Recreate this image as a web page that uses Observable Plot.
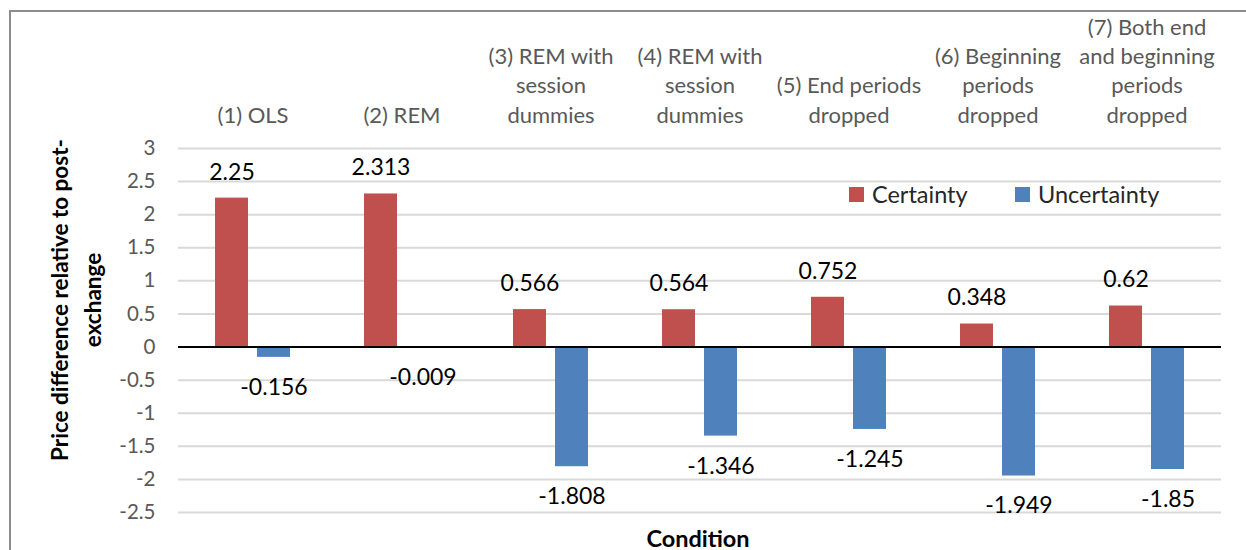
<!DOCTYPE html>
<html>
<head>
<meta charset="utf-8">
<script src="https://cdn.jsdelivr.net/npm/d3@7"></script>
<script src="https://cdn.jsdelivr.net/npm/@observablehq/plot@0.6"></script>
<style>
  html, body { margin: 0; padding: 0; background: #fff; overflow: hidden; }
  #wrap { position: relative; width: 1246px; height: 550px; font-family: Lato, "Open Sans", sans-serif; }
  #frame { position: absolute; left: 9px; top: 10px; width: 1400px; height: 700px; border: 2px solid #8c8c8c; pointer-events: none; }
  #ytitle { position: absolute; left: 76px; top: 300px; width: 460px; transform: translate(-50%, -50%) rotate(-90deg);
            text-align: center; font-weight: bold; font-size: 22.5px; line-height: 33px; color: #000; white-space: pre; }
  #xtitle { position: absolute; left: 698px; top: 538px; transform: translate(-50%, -50%);
            font-weight: bold; font-size: 23.5px; color: #000; }
  .key { position: absolute; top: 194px; transform: translateY(-50%); display: flex; align-items: center;
         font-size: 23.5px; color: #262626; }
  .key span.sw { display: inline-block; width: 15px; height: 15px; margin-right: 8px; }
</style>
</head>
<body>
<div id="wrap">
  <div id="chart"></div>
  <div id="frame"></div>
  <div id="ytitle"></div>
  <div id="xtitle"></div>
  <div id="legend"></div>
</div>
<script>
// Regression conditions (wrapped as shown on the category axis)
const conditions = [
  "(1) OLS",
  "(2) REM",
  "(3) REM with\nsession\ndummies",
  "(4) REM with\nsession\ndummies",
  "(5) End periods\ndropped",
  "(6) Beginning\nperiods\ndropped",
  "(7) Both end\nand beginning\nperiods\ndropped"
];
const series = ["Certainty", "Uncertainty"];
const seriesColors = ["#C0504D", "#4F81BD"];

// Estimated price differences relative to post-exchange
const certainty   = [2.25, 2.313, 0.566, 0.564, 0.752, 0.348, 0.62];
const uncertainty = [-0.156, -0.009, -1.808, -1.346, -1.245, -1.949, -1.85];

const yTicks = [3, 2.5, 2, 1.5, 1, 0.5, 0, -0.5, -1, -1.5, -2, -2.5];
const yTitle = "Price difference relative to post-\nexchange";
const xTitle = "Condition";

// Long-format rows for the grouped bars
const rows = [];
conditions.forEach((c, i) => {
  rows.push({condition: c, series: series[0], value: certainty[i]});
  rows.push({condition: c, series: series[1], value: uncertainty[i]});
});

const chart = Plot.plot({
  width: 1246,
  height: 550,
  marginLeft: 177,
  marginRight: 24,
  marginTop: 148,
  marginBottom: 38,
  style: {fontFamily: "Lato, 'Open Sans', sans-serif", background: "none", overflow: "visible"},
  fx: {domain: conditions, padding: 0, label: null},
  x: {domain: series, paddingInner: 0.212, paddingOuter: 0.862, axis: null},
  y: {domain: [-2.5, 3], label: null},
  color: {domain: series, range: seriesColors},
  marks: [
    Plot.gridY(yTicks, {stroke: "#d9d9d9", strokeOpacity: 1, strokeWidth: 2}),
    Plot.axisY(yTicks, {
      tickSize: 0, tickPadding: 23, fontSize: 20.5, color: "#595959",
      tickFormat: d => String(d), label: null
    }),
    Plot.axisFx({
      anchor: "top", tickSize: 0, tickPadding: 26, fontSize: 22, lineHeight: 1.32,
      color: "#595959", label: null
    }),
    Plot.barY(rows, {fx: "condition", x: "series", y: "value", fill: "series"}),
    Plot.ruleY([0], {stroke: "#000", strokeWidth: 2}),
    Plot.text(rows.filter(d => d.value >= 0), {
      fx: "condition", x: "series", y: "value", text: d => String(d.value),
      dy: -26, fontSize: 23, fill: "#000"
    }),
    Plot.text(rows.filter(d => d.value < 0), {
      fx: "condition", x: "series", y: "value", text: d => String(d.value),
      dy: 30, fontSize: 23, fill: "#000"
    })
  ]
});
document.getElementById("chart").appendChild(chart);

document.getElementById("ytitle").textContent = yTitle;
document.getElementById("xtitle").textContent = xTitle;

// Legend placed inside the plot area, upper right
const legendLeft = [849, 1015];
const legend = document.getElementById("legend");
series.forEach((s, i) => {
  const item = document.createElement("div");
  item.className = "key";
  item.style.left = legendLeft[i] + "px";
  const sw = document.createElement("span");
  sw.className = "sw";
  sw.style.background = seriesColors[i];
  item.appendChild(sw);
  item.appendChild(document.createTextNode(s));
  legend.appendChild(item);
});
</script>
</body>
</html>
